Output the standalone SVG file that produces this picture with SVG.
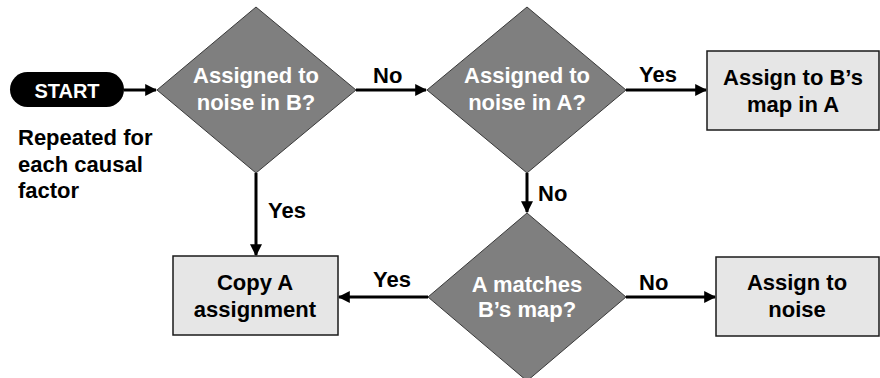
<svg xmlns="http://www.w3.org/2000/svg" width="880" height="378" viewBox="0 0 880 378">
<defs>
<style>
text{font-family:"Liberation Sans",Arial,sans-serif;font-weight:bold;font-size:22px;text-anchor:middle;}
.w{fill:#ffffff;}
.k{fill:#000000;}
.lbl{fill:#000000;text-anchor:start;}
.dia{fill:#7f7f7f;stroke:#3a3a3a;stroke-width:1;}
.box{fill:#e6e6e6;stroke:#1a1a1a;stroke-width:1.5;}
.con{stroke:#000;stroke-width:3;fill:none;marker-end:url(#ah);}
</style>
<marker id="ah" viewBox="0 0 10 10" refX="9" refY="5" markerWidth="4" markerHeight="4" orient="auto" markerUnits="strokeWidth">
<path d="M0,0 L10,5 L0,10 z" fill="#000"/>
</marker>
</defs>
<rect width="880" height="378" fill="#ffffff"/>
<g id="connectors">
<line class="con" x1="124" y1="90" x2="156" y2="90"/>
<line class="con" x1="356" y1="90" x2="426" y2="90"/>
<line class="con" x1="626" y1="90" x2="706" y2="90"/>
<line class="con" x1="256" y1="173" x2="256" y2="255"/>
<line class="con" x1="527" y1="173" x2="527" y2="212"/>
<line class="con" x1="428" y1="297" x2="339" y2="297"/>
<line class="con" x1="626" y1="297" x2="715" y2="297"/>
<text class="lbl" x="373" y="83">No</text>
<text class="lbl" x="639" y="82">Yes</text>
<text class="lbl" x="268" y="218">Yes</text>
<text class="lbl" x="538" y="201">No</text>
<text class="lbl" x="373" y="287">Yes</text>
<text class="lbl" x="639" y="290">No</text>
</g>
<g id="start">
<rect x="10" y="72" width="114" height="35" rx="17.5" ry="17.5" fill="#000"/>
<text class="w" x="67" y="98" style="font-size:20px">START</text>
</g>
<g id="note">
<text class="lbl" x="18" y="145">Repeated for</text>
<text class="lbl" x="18" y="172">each causal</text>
<text class="lbl" x="18" y="198">factor</text>
</g>
<g id="d1">
<polygon class="dia" points="256,7 356,90 256,173 157,90"/>
<text class="w" x="256" y="83">Assigned to</text>
<text class="w" x="256" y="110">noise in B?</text>
</g>
<g id="d2">
<polygon class="dia" points="527,7 626,90 527,173 427,90"/>
<text class="w" x="527" y="83">Assigned to</text>
<text class="w" x="527" y="110">noise in A?</text>
</g>
<g id="box1">
<rect class="box" x="707" y="51" width="172" height="79"/>
<text class="k" x="793" y="85">Assign to B’s</text>
<text class="k" x="793" y="112">map in A</text>
</g>
<g id="d3">
<polygon class="dia" points="527,213 626,297 527,381 428,297"/>
<text class="w" x="527" y="292">A matches</text>
<text class="w" x="527" y="317">B’s map?</text>
</g>
<g id="box2">
<rect class="box" x="173" y="256" width="165" height="79"/>
<text class="k" x="255" y="290">Copy A</text>
<text class="k" x="255" y="317">assignment</text>
</g>
<g id="box3">
<rect class="box" x="716" y="257" width="163" height="79"/>
<text class="k" x="797" y="290">Assign to</text>
<text class="k" x="797" y="317">noise</text>
</g>
</svg>
